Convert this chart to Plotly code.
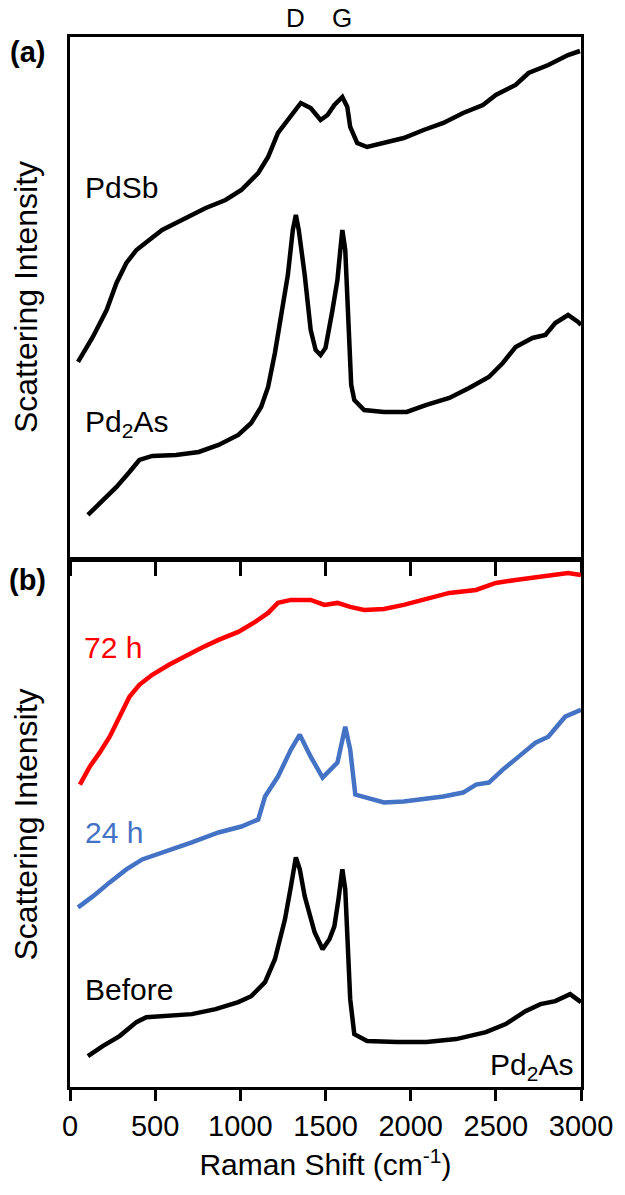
import plotly.graph_objects as go

# ---------- data (Raman shift in cm-1, intensity in arbitrary units) ----------
pdsb_x = [47, 134, 215, 273, 331, 390, 465, 541, 622, 715, 797, 913, 1006, 1105, 1163, 1221,
          1297, 1355, 1413, 1471, 1512, 1552, 1599, 1628, 1645, 1686, 1744, 1843, 1959, 2076,
          2192, 2308, 2424, 2500, 2616, 2692, 2808, 2924, 2994]
pdsb_y = [195, 220, 247, 274, 294, 307, 317, 327, 334, 342, 349, 357, 367, 384, 400, 424,
          440, 454, 449, 437, 442, 452, 460, 450, 430, 414, 410, 414, 419, 427,
          434, 444, 452, 462, 472, 484, 492, 502, 506]

pd2as_x = [105, 192, 273, 349, 407, 483, 622, 756, 872, 988, 1064, 1122, 1163, 1203, 1238, 1279,
           1308, 1326, 1343, 1378, 1413, 1442, 1471, 1500, 1541, 1570, 1587, 1599, 1616, 1628,
           1640, 1651, 1669, 1727, 1843, 1977, 2093, 2227, 2343, 2459, 2541, 2616, 2715, 2791,
           2849, 2924, 2983, 3000]
pd2as_y = [42, 57, 70, 85, 97, 101, 102, 105, 112, 122, 134, 150, 170, 204, 237, 282,
           327, 342, 327, 282, 227, 207, 202, 209, 247, 277, 307, 327, 307, 267,
           217, 172, 157, 147, 145, 145, 152, 159, 169, 180, 194, 210, 219, 222,
           234, 242, 235, 232]

h72_x = [58, 116, 174, 233, 291, 349, 407, 483, 581, 680, 773, 872, 988, 1087, 1163, 1221,
         1297, 1413, 1494, 1570, 1645, 1727, 1843, 1959, 2076, 2227, 2384, 2500, 2616, 2773,
         2924, 3000]
h72_y = [303, 321, 335, 351, 371, 391, 403, 413, 423, 432, 440, 448, 456, 466, 475, 485,
         488, 488, 483, 485, 481, 478, 479, 483, 488, 495, 498, 505, 508, 512,
         515, 513]

h24_x = [47, 134, 233, 331, 424, 564, 715, 872, 1006, 1105, 1145, 1221, 1297, 1349, 1413, 1483,
         1552, 1570, 1616, 1645, 1675, 1744, 1843, 1959, 2076, 2192, 2308, 2384, 2459, 2541,
         2634, 2733, 2808, 2907, 3000]
h24_y = [180, 191, 205, 218, 228, 236, 245, 255, 261, 268, 291, 311, 338, 353, 331, 310,
         321, 325, 361, 338, 293, 290, 285, 286, 288, 291, 295, 303, 305, 318,
         331, 345, 351, 371, 378]

before_x = [105, 192, 291, 390, 448, 581, 715, 855, 988, 1064, 1145, 1203, 1262, 1297, 1326, 1349,
            1378, 1436, 1483, 1523, 1552, 1576, 1599, 1616, 1628, 1645, 1669, 1744, 1919, 2093,
            2267, 2442, 2558, 2674, 2762, 2849, 2936, 3000]
before_y = [31, 41, 51, 65, 70, 71, 73, 78, 85, 91, 105, 128, 168, 201, 230, 218,
            191, 155, 138, 148, 161, 188, 218, 198, 148, 88, 53, 46, 45, 45,
            48, 55, 63, 76, 83, 86, 93, 85]

x_ticks = [0, 500, 1000, 1500, 2000, 2500, 3000]
x_tick_labels = ["0", "500", "1000", "1500", "2000", "2500", "3000"]

BLACK = "#000000"
RED = "#FF0000"
BLUE = "#4472C4"
FONT = "Liberation Sans, Arial, sans-serif"

fig = go.Figure()

def add(x, y, color, xa, ya):
    fig.add_trace(go.Scatter(x=x, y=y, mode="lines", line=dict(color=color, width=4.5),
                             xaxis=xa, yaxis=ya, showlegend=False, hoverinfo="skip"))

add(pdsb_x, pdsb_y, BLACK, "x", "y")
add(pd2as_x, pd2as_y, BLACK, "x", "y")
add(h72_x, h72_y, RED, "x2", "y2")
add(h24_x, h24_y, BLUE, "x2", "y2")
add(before_x, before_y, BLACK, "x2", "y2")

axis_common = dict(showline=True, linecolor=BLACK, linewidth=3, mirror=True,
                   showgrid=False, zeroline=False)

# the page body adds an 8 px offset, so the figure is 8 px smaller and margins compensate
fig.update_layout(
    width=617, height=1187,
    margin=dict(l=62, r=38, t=29, b=108),
    paper_bgcolor="white", plot_bgcolor="white",
    font=dict(family=FONT, color=BLACK, size=29),
    xaxis=dict(domain=[0, 1], range=[0, 3000], anchor="y", tickvals=x_ticks,
               showticklabels=False, ticks="outside", ticklen=16, tickwidth=3,
               tickcolor=BLACK, **axis_common),
    yaxis=dict(domain=[0.5048, 1.0], range=[0, 520], anchor="x", showticklabels=False,
               ticks="", title=dict(text="Scattering Intensity", standoff=20,
                                    font=dict(size=32)), **axis_common),
    xaxis2=dict(domain=[0, 1], range=[0, 3000], anchor="y2", tickvals=x_ticks,
                ticktext=x_tick_labels, ticks="outside", ticklen=11, tickwidth=3,
                tickcolor=BLACK, tickfont=dict(size=29),
                title=dict(text="Raman Shift (cm<sup>-1</sup>)", standoff=14,
                           font=dict(size=30)), **axis_common),
    yaxis2=dict(domain=[0, 0.5], range=[0, 526], anchor="x2", showticklabels=False,
                ticks="", title=dict(text="Scattering Intensity", standoff=20,
                                     font=dict(size=32)), **axis_common),
)

ann = [
    dict(text="D", x=1326, y=1.0, xref="x", yref="paper", showarrow=False,
         xanchor="center", yanchor="bottom", yshift=2, font=dict(size=26)),
    dict(text="G", x=1599, y=1.0, xref="x", yref="paper", showarrow=False,
         xanchor="center", yanchor="bottom", yshift=2, font=dict(size=26)),
    dict(text="<b>(a)</b>", x=-0.083, y=505, xref="paper", yref="y", showarrow=False,
         xanchor="center", yanchor="middle", font=dict(size=29)),
    dict(text="<b>(b)</b>", x=-0.083, y=508, xref="paper", yref="y2", showarrow=False,
         xanchor="center", yanchor="middle", font=dict(size=29)),
    dict(text="PdSb", x=76, y=369, xref="x", yref="y", showarrow=False,
         xanchor="left", yanchor="middle", font=dict(size=30)),
    dict(text="Pd<sub>2</sub>As", x=76, y=133, xref="x", yref="y", showarrow=False,
         xanchor="left", yanchor="middle", font=dict(size=30)),
    dict(text="72 h", x=70, y=440, xref="x2", yref="y2", showarrow=False,
         xanchor="left", yanchor="middle", font=dict(size=30, color=RED)),
    dict(text="24 h", x=76, y=255, xref="x2", yref="y2", showarrow=False,
         xanchor="left", yanchor="middle", font=dict(size=30, color=BLUE)),
    dict(text="Before", x=76, y=98, xref="x2", yref="y2", showarrow=False,
         xanchor="left", yanchor="middle", font=dict(size=30)),
    dict(text="Pd<sub>2</sub>As", x=2965, y=21, xref="x2", yref="y2", showarrow=False,
         xanchor="right", yanchor="middle", font=dict(size=30)),
]
fig.update_layout(annotations=ann)

fig.write_html("out.html")
